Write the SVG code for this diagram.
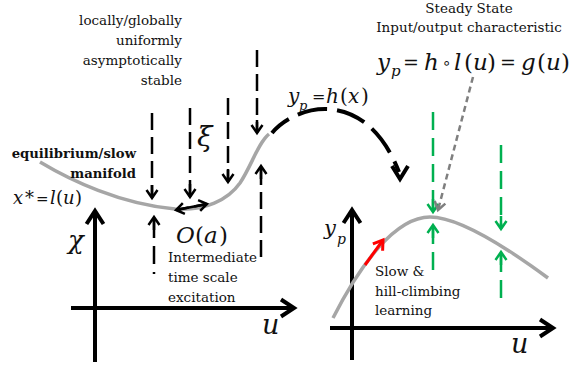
<svg xmlns="http://www.w3.org/2000/svg" width="588" height="367" viewBox="0 0 588 367" font-family="'DejaVu Serif', 'Liberation Serif', serif">
<style>
text{fill:#111}
.t{font-size:13.5px}
.b{font-weight:bold;font-size:13.2px}
.i{font-style:italic}
.axis{fill:none;stroke:#000;stroke-width:4}
.curve{fill:none;stroke:#a6a6a6;stroke-width:3.5}
.dk{fill:none;stroke:#000;stroke-width:2.5;stroke-dasharray:17 7}
.dg{fill:none;stroke:#00b050;stroke-width:2.5;stroke-dasharray:18 8}
.dgr{fill:none;stroke:#7f7f7f;stroke-width:2.5;stroke-dasharray:6 4}
.sk{fill:none;stroke:#000;stroke-width:2.5}
.arc{fill:none;stroke:#000;stroke-width:4;stroke-dasharray:30 10;stroke-dashoffset:8}
.red{fill:none;stroke:#f00;stroke-width:3}
</style>
<defs>
<marker id="mk" markerUnits="userSpaceOnUse" markerWidth="30" markerHeight="30" refX="0" refY="0" orient="auto-start-reverse" overflow="visible"><path d="M-13,0H0M-8,-5.5L0,0L-8,5.5" fill="none" stroke="#000" stroke-width="2.5"/></marker>
<marker id="mg" markerUnits="userSpaceOnUse" markerWidth="30" markerHeight="30" refX="0" refY="0" orient="auto" overflow="visible"><path d="M-13,0H0M-8,-5.5L0,0L-8,5.5" fill="none" stroke="#00b050" stroke-width="2.5"/></marker>
<marker id="mgr" markerUnits="userSpaceOnUse" markerWidth="30" markerHeight="30" refX="0" refY="0" orient="auto" overflow="visible"><path d="M-8,-5.5L0,0L-8,5.5" fill="none" stroke="#7f7f7f" stroke-width="2.5"/></marker>
<marker id="mr" markerUnits="userSpaceOnUse" markerWidth="30" markerHeight="30" refX="0" refY="0" orient="auto" overflow="visible"><path d="M-9,-6L0,0L-9,6" fill="none" stroke="#f00" stroke-width="3"/></marker>
<marker id="ma" markerUnits="userSpaceOnUse" markerWidth="30" markerHeight="30" refX="0" refY="0" orient="auto" overflow="visible"><path d="M-13,-8.5L0,0L-13,8.5" fill="none" stroke="#000" stroke-width="4"/></marker>
</defs>

<g id="left-plot">
<path class="axis" d="M95,362V211" marker-end="url(#ma)"/>
<path class="axis" d="M71,308H294" marker-end="url(#ma)"/>
<path class="curve" d="M40,162C70,180 120,204 175,209C205,211 228,200 240,183C252,165 258,143 269,134"/>
<text class="i" x="68" y="249" font-size="26">χ</text>
<text class="i" x="262" y="334" font-size="27">u</text>
<text font-size="18" y="204"><tspan class="i" x="13">x</tspan><tspan x="25">*</tspan><tspan x="36" font-size="15">=</tspan><tspan class="i" x="50">l</tspan><tspan x="56">(</tspan><tspan class="i" x="63">u</tspan><tspan x="75">)</tspan></text>
</g>

<g id="right-plot">
<path class="axis" d="M352,360V210" marker-end="url(#ma)"/>
<path class="axis" d="M330,328H553" marker-end="url(#ma)"/>
<path class="curve" d="M333,318C360,265 395,217 430,217C460,217 510,250 548,278"/>
<text class="i" x="324" y="235" font-size="21">y</text>
<text class="i" x="337" y="244" font-size="14">p</text>
<text class="i" x="511" y="353" font-size="27">u</text>
</g>

<g id="label-stable" class="t" text-anchor="end">
<text x="182" y="25">locally/globally</text>
<text x="182" y="45">uniformly</text>
<text x="182" y="65">asymptotically</text>
<text x="182" y="85">stable</text>
</g>

<g id="label-manifold" class="b" text-anchor="end">
<text x="136" y="158">equilibrium/slow</text>
<text x="136" y="178">manifold</text>
</g>

<g id="label-excitation" class="t">
<text x="168" y="262">Intermediate</text>
<text x="168" y="282">time scale</text>
<text x="168" y="302">excitation</text>
</g>

<g id="label-learning" class="t">
<text x="375" y="276">Slow &amp;</text>
<text x="375" y="296">hill-climbing</text>
<text x="375" y="315">learning</text>
</g>

<g id="label-steady" class="t" text-anchor="middle">
<text x="469" y="13">Steady State</text>
<text x="469" y="32">Input/output characteristic</text>
</g>

<g id="formula-g">
<text font-size="23" y="70"><tspan class="i" x="377">y</tspan><tspan x="403" font-size="19" dy="-1">=</tspan><tspan class="i" x="424" dy="1">h</tspan><tspan class="i" x="454">l</tspan><tspan x="464">(</tspan><tspan class="i" x="473">u</tspan><tspan x="487">)</tspan><tspan x="500" font-size="19" dy="-1">=</tspan><tspan class="i" x="521" dy="1">g</tspan><tspan x="537">(</tspan><tspan class="i" x="546">u</tspan><tspan x="561">)</tspan></text>
<text class="i" x="391" y="76" font-size="15">p</text>
<text x="442" y="68" font-size="15" font-family="'DejaVu Sans', sans-serif">∘</text>
</g>

<g id="formula-h">
<text font-size="20" y="103"><tspan class="i" x="288">y</tspan><tspan x="312" font-size="16" dy="-1">=</tspan><tspan class="i" x="326" dy="1">h</tspan><tspan x="340">(</tspan><tspan class="i" x="348">x</tspan><tspan x="361">)</tspan></text>
<text class="i" x="299" y="110" font-size="13">p</text>
</g>

<g id="label-xi"><text class="i" x="197" y="146" font-size="28">ξ</text></g>
<g id="label-oa"><text font-size="23" y="243"><tspan class="i" x="176">O</tspan><tspan x="195">(</tspan><tspan class="i" x="204">a</tspan><tspan x="219">)</tspan></text></g>

<g id="connectors">
<path class="dk" d="M152,113V198" marker-end="url(#mk)"/>
<path class="dk" d="M190,108V197" marker-end="url(#mk)"/>
<path class="dk" d="M228,98V182" marker-end="url(#mk)"/>
<path class="dk" d="M257,50V133" marker-end="url(#mk)"/>
<path class="dk" d="M154,274V217" style="stroke-dasharray:18 8;stroke-dashoffset:16" marker-end="url(#mk)"/>
<path class="dk" d="M261,257V166" marker-end="url(#mk)"/>
<path class="sk" d="M176,210L207,204" marker-start="url(#mk)" marker-end="url(#mk)"/>
<path class="arc" d="M272,133C295,105 365,85 399,172"/>
<path class="sk" d="M392,166L400,179L408,166" style="stroke-width:4"/>
<path class="dg" d="M433,112V212" marker-end="url(#mg)"/>
<path class="dg" d="M433,270V225" marker-end="url(#mg)"/>
<path class="dg" d="M501,145V229" marker-end="url(#mg)"/>
<path class="dg" d="M501,298V252" marker-end="url(#mg)"/>
<path class="dgr" d="M473,77L438,210" marker-end="url(#mgr)"/>
<path class="red" d="M365,265L383,240" marker-end="url(#mr)"/>
</g>
</svg>
